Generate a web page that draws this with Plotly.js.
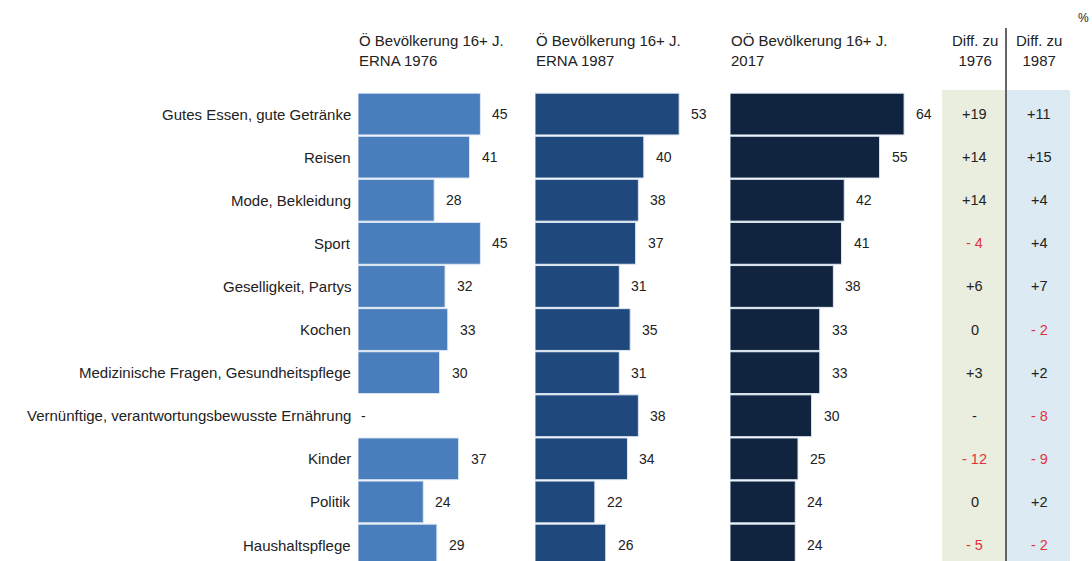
<!DOCTYPE html>
<html>
<head>
<meta charset="utf-8">
<script src="https://cdn.plot.ly/plotly-3.0.1.min.js"></script>
<style>html,body{margin:0;padding:0;background:#fff;}#chart{width:1092px;height:561px;}</style>
</head>
<body>
<div id="chart"></div>
<script>
const categories = [
  "Gutes Essen, gute Getränke",
  "Reisen",
  "Mode, Bekleidung",
  "Sport",
  "Geselligkeit, Partys",
  "Kochen",
  "Medizinische Fragen, Gesundheitspflege",
  "Vernünftige, verantwortungsbewusste Ernährung",
  "Kinder",
  "Politik",
  "Haushaltspflege"
];
const erna1976 = [45, 41, 28, 45, 32, 33, 30, null, 37, 24, 29];
const erna1987 = [53, 40, 38, 37, 31, 35, 31, 38, 34, 22, 26];
const ooe2017 = [64, 55, 42, 41, 38, 33, 33, 30, 25, 24, 24];
const diff1976 = [19, 14, 14, -4, 6, 0, 3, null, -12, 0, -5];
const diff1987 = [11, 15, 4, 4, 7, -2, 2, -8, -9, 2, -2];
const seriesHeaders = [
  "Ö Bevölkerung 16+ J.<br>ERNA 1976",
  "Ö Bevölkerung 16+ J.<br>ERNA 1987",
  "OÖ Bevölkerung 16+ J.<br>2017"
];
const diffHeaders = ["Diff. zu<br>1976", "Diff. zu<br>1987"];
const colors = ["#4a7dbc", "#1f487c", "#11243f"];

const W = 1092, H = 561, T = 80, B = 0;
const px = x => x / W;
const py = y => (H - y) / (H - T - B);
const scale = 2.72; // px per percent
const panels = [[358, 530], [535, 725], [730, 940]];
const series = [erna1976, erna1987, ooe2017];
const font = "Liberation Sans, Arial, sans-serif";

const traces = series.map((vals, i) => ({
  type: "bar",
  orientation: "h",
  x: vals,
  y: categories,
  xaxis: i === 0 ? "x" : "x" + (i + 1),
  yaxis: "y",
  marker: {color: colors[i], line: {color: "#dfe8f3", width: 1}},
  hoverinfo: "x+y",
  showlegend: false
}));

const layout = {
  width: W, height: H,
  margin: {l: 0, r: 0, t: T, b: B},
  paper_bgcolor: "#ffffff",
  plot_bgcolor: "rgba(0,0,0,0)",
  bargap: 0.03,
  font: {family: font, size: 13, color: "#222"},
  yaxis: {
    type: "category",
    categoryarray: categories,
    range: [10.37, -0.79],
    visible: false,
    anchor: "x",
    fixedrange: true
  },
  shapes: [],
  annotations: []
};

panels.forEach((p, i) => {
  const key = i === 0 ? "xaxis" : "xaxis" + (i + 1);
  layout[key] = {
    domain: [px(p[0]), px(p[1])],
    range: [0, (p[1] - p[0]) / scale],
    visible: false,
    anchor: "y",
    fixedrange: true
  };
  const xref = i === 0 ? "x" : "x" + (i + 1);
  series[i].forEach((v, j) => {
    layout.annotations.push({
      xref: xref, yref: "y",
      x: v === null ? 0 : v, y: categories[j],
      text: v === null ? "-" : String(v),
      showarrow: false, xanchor: "left", yanchor: "middle",
      xshift: v === null ? 1 : 10,
      font: {size: 14, color: "#222"}
    });
  });
  layout.annotations.push({
    xref: "paper", yref: "paper",
    x: px(p[0] - 1), y: py(50),
    text: seriesHeaders[i],
    showarrow: false, xanchor: "left", yanchor: "middle", align: "left",
    font: {size: 15, color: "#222"}
  });
});

// category labels
categories.forEach((c, j) => {
  layout.annotations.push({
    xref: "paper", yref: "y",
    x: px(353), y: c,
    text: c,
    showarrow: false, xanchor: "right", yanchor: "middle",
    font: {size: 15, color: "#222"}
  });
});

// diff columns
const diffCols = [[942, 1005], [1006, 1070]];
const diffFills = ["#e9eedf", "#dbeaf3"];
const diffs = [diff1976, diff1987];
const fmt = v => v === null ? "-" : (v > 0 ? "+" + v : (v === 0 ? "0" : "- " + Math.abs(v)));
diffCols.forEach((c, i) => {
  layout.shapes.push({
    type: "rect", xref: "paper", yref: "paper",
    x0: px(c[0]), x1: px(c[1]), y0: py(561), y1: py(90),
    fillcolor: diffFills[i], line: {width: 0}, layer: "below"
  });
  const cx = px((c[0] + c[1]) / 2 + 1);
  layout.annotations.push({
    xref: "paper", yref: "paper",
    x: cx, y: py(50),
    text: diffHeaders[i],
    showarrow: false, xanchor: "center", yanchor: "middle", align: "center",
    font: {size: 15, color: "#222"}
  });
  diffs[i].forEach((v, j) => {
    layout.annotations.push({
      xref: "paper", yref: "y",
      x: cx, y: categories[j],
      text: fmt(v),
      showarrow: false, xanchor: "center", yanchor: "middle",
      font: {size: 14.5, color: (v !== null && v < 0) ? "#e0343c" : "#222"}
    });
  });
});
layout.shapes.push({
  type: "line", xref: "paper", yref: "paper",
  x0: px(1006), x1: px(1006), y0: py(561), y1: py(28),
  line: {color: "#333", width: 1.5}
});
layout.annotations.push({
  xref: "paper", yref: "paper",
  x: px(1083), y: py(18),
  text: "%",
  showarrow: false, xanchor: "center", yanchor: "middle",
  font: {size: 12, color: "#222"}
});

Plotly.newPlot("chart", traces, layout, {displayModeBar: false, staticPlot: true});
</script>
</body>
</html>
